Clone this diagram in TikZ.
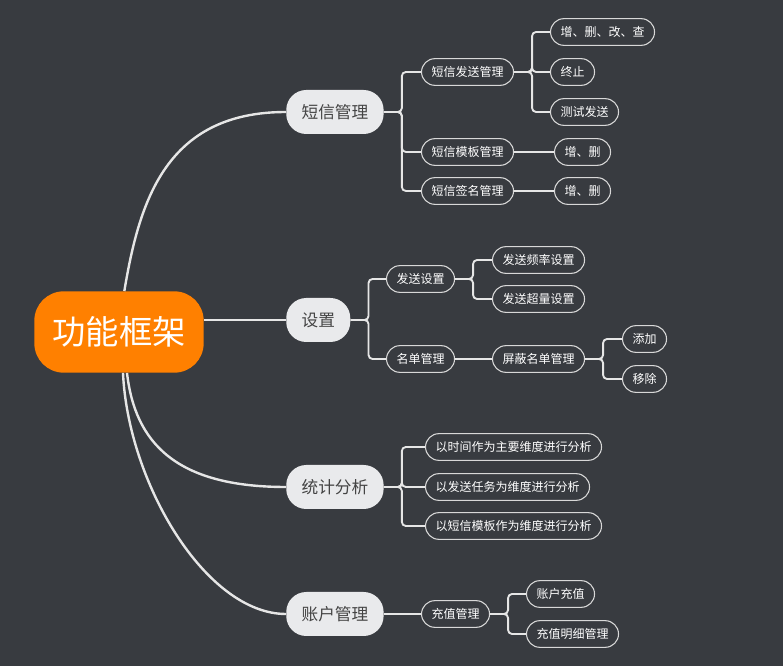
\documentclass[tikz,border=0pt]{standalone}
\usepackage{fontspec}
\newfontfamily\cjk{Noto Sans CJK SC}
\usepackage{xcolor}
\usepackage{tikz}
\usetikzlibrary{positioning}

\definecolor{bgdark}{HTML}{383B40}
\definecolor{rootfill}{HTML}{FF8000}
\definecolor{topicfill}{HTML}{E9EAEC}
\definecolor{topictext}{HTML}{444444}
\definecolor{leafline}{HTML}{D8D8D8}
\definecolor{linecol}{HTML}{E6E6E6}

\begin{document}
\begin{tikzpicture}[
  x=0.75pt, y=-0.75pt,
  root/.style={rectangle, rounded corners=22pt, fill=rootfill, text=white,
    font=\cjk\fontsize{25pt}{25pt}\selectfont, inner xsep=13.5pt, minimum height=61pt},
  topic/.style={rectangle, rounded corners=15pt, fill=topicfill, text=topictext,
    font=\cjk\fontsize{12.5pt}{12.5pt}\selectfont, inner xsep=11.5pt,
    minimum height=33pt, anchor=west},
  leaf/.style={rectangle, rounded corners=10pt, draw=leafline, line width=0.8pt,
    text=white, font=\cjk\fontsize{9pt}{9pt}\selectfont, inner xsep=7.5pt,
    minimum height=20pt, anchor=west},
  trunk/.style={draw=linecol, line width=1.8pt},
  branch/.style={draw=linecol, line width=1.4pt, rounded corners=3pt},
]
\fill[bgdark] (0,0) rectangle (783,666);

% centre
\node[root] (frame) at (119,332) {功能框架};

% main topics
\node[topic] (sms)  at (286,112) {短信管理};
\node[topic] (set)  at (286,320) {设置};
\node[topic] (stat) at (286,487) {统计分析};
\node[topic] (acct) at (286,614) {账户管理};

\draw[trunk] ([xshift=4pt]frame.north) .. controls +(15,-90) and +(-120,0) .. (sms.west);
\draw[trunk] ([yshift=9pt]frame.east) -- (set.west);
\draw[trunk] ([xshift=6pt]frame.south) .. controls +(8,70) and +(-110,0) .. (stat.west);
\draw[trunk] ([xshift=3pt]frame.south) .. controls +(5,110) and +(-80,0) .. (acct.west);

% 短信管理
\node[leaf] (send) at (421,72)  {短信发送管理};
\node[leaf] (tpl)  at (421,152) {短信模板管理};
\node[leaf] (sig)  at (421,191) {短信签名管理};
\foreach \n in {send,tpl,sig}
  \draw[branch] (sms.east) -- ++(18,0) |- (\n.west);

\node[leaf] (crud) at (550,32)  {增、删、改、查};
\node[leaf] (stop) at (550,72)  {终止};
\node[leaf] (test) at (550,112) {测试发送};
\foreach \n in {crud,stop,test}
  \draw[branch] (send.east) -- ++(18,0) |- (\n.west);

\node[leaf] (tpladd) at (554,152) {增、删};
\node[leaf] (sigadd) at (554,191) {增、删};
\draw[branch] (tpl.east) -- (tpladd.west);
\draw[branch] (sig.east) -- (sigadd.west);

% 设置
\node[leaf] (sendset) at (386,279) {发送设置};
\node[leaf] (list)    at (386,359) {名单管理};
\foreach \n in {sendset,list}
  \draw[branch] (set.east) -- ++(18,0) |- (\n.west);

\node[leaf] (freq) at (492,260) {发送频率设置};
\node[leaf] (over) at (492,299) {发送超量设置};
\foreach \n in {freq,over}
  \draw[branch] (sendset.east) -- ++(18,0) |- (\n.west);

\node[leaf] (block) at (492,359) {屏蔽名单管理};
\draw[branch] (list.east) -- (block.west);

\node[leaf] (add) at (622,339) {添加};
\node[leaf] (del) at (622,379) {移除};
\foreach \n in {add,del}
  \draw[branch] (block.east) -- ++(18,0) |- (\n.west);

% 统计分析
\node[leaf] (bytime) at (425,447) {以时间作为主要维度进行分析};
\node[leaf] (bytask) at (425,487) {以发送任务为维度进行分析};
\node[leaf] (bytpl)  at (425,526) {以短信模板作为维度进行分析};
\foreach \n in {bytime,bytask,bytpl}
  \draw[branch] (stat.east) -- ++(18,0) |- (\n.west);

% 账户管理
\node[leaf] (charge) at (421,614) {充值管理};
\draw[branch] (acct.east) -- (charge.west);

\node[leaf] (topup)  at (526,594) {账户充值};
\node[leaf] (detail) at (526,634) {充值明细管理};
\foreach \n in {topup,detail}
  \draw[branch] (charge.east) -- ++(18,0) |- (\n.west);
\end{tikzpicture}
\end{document}
